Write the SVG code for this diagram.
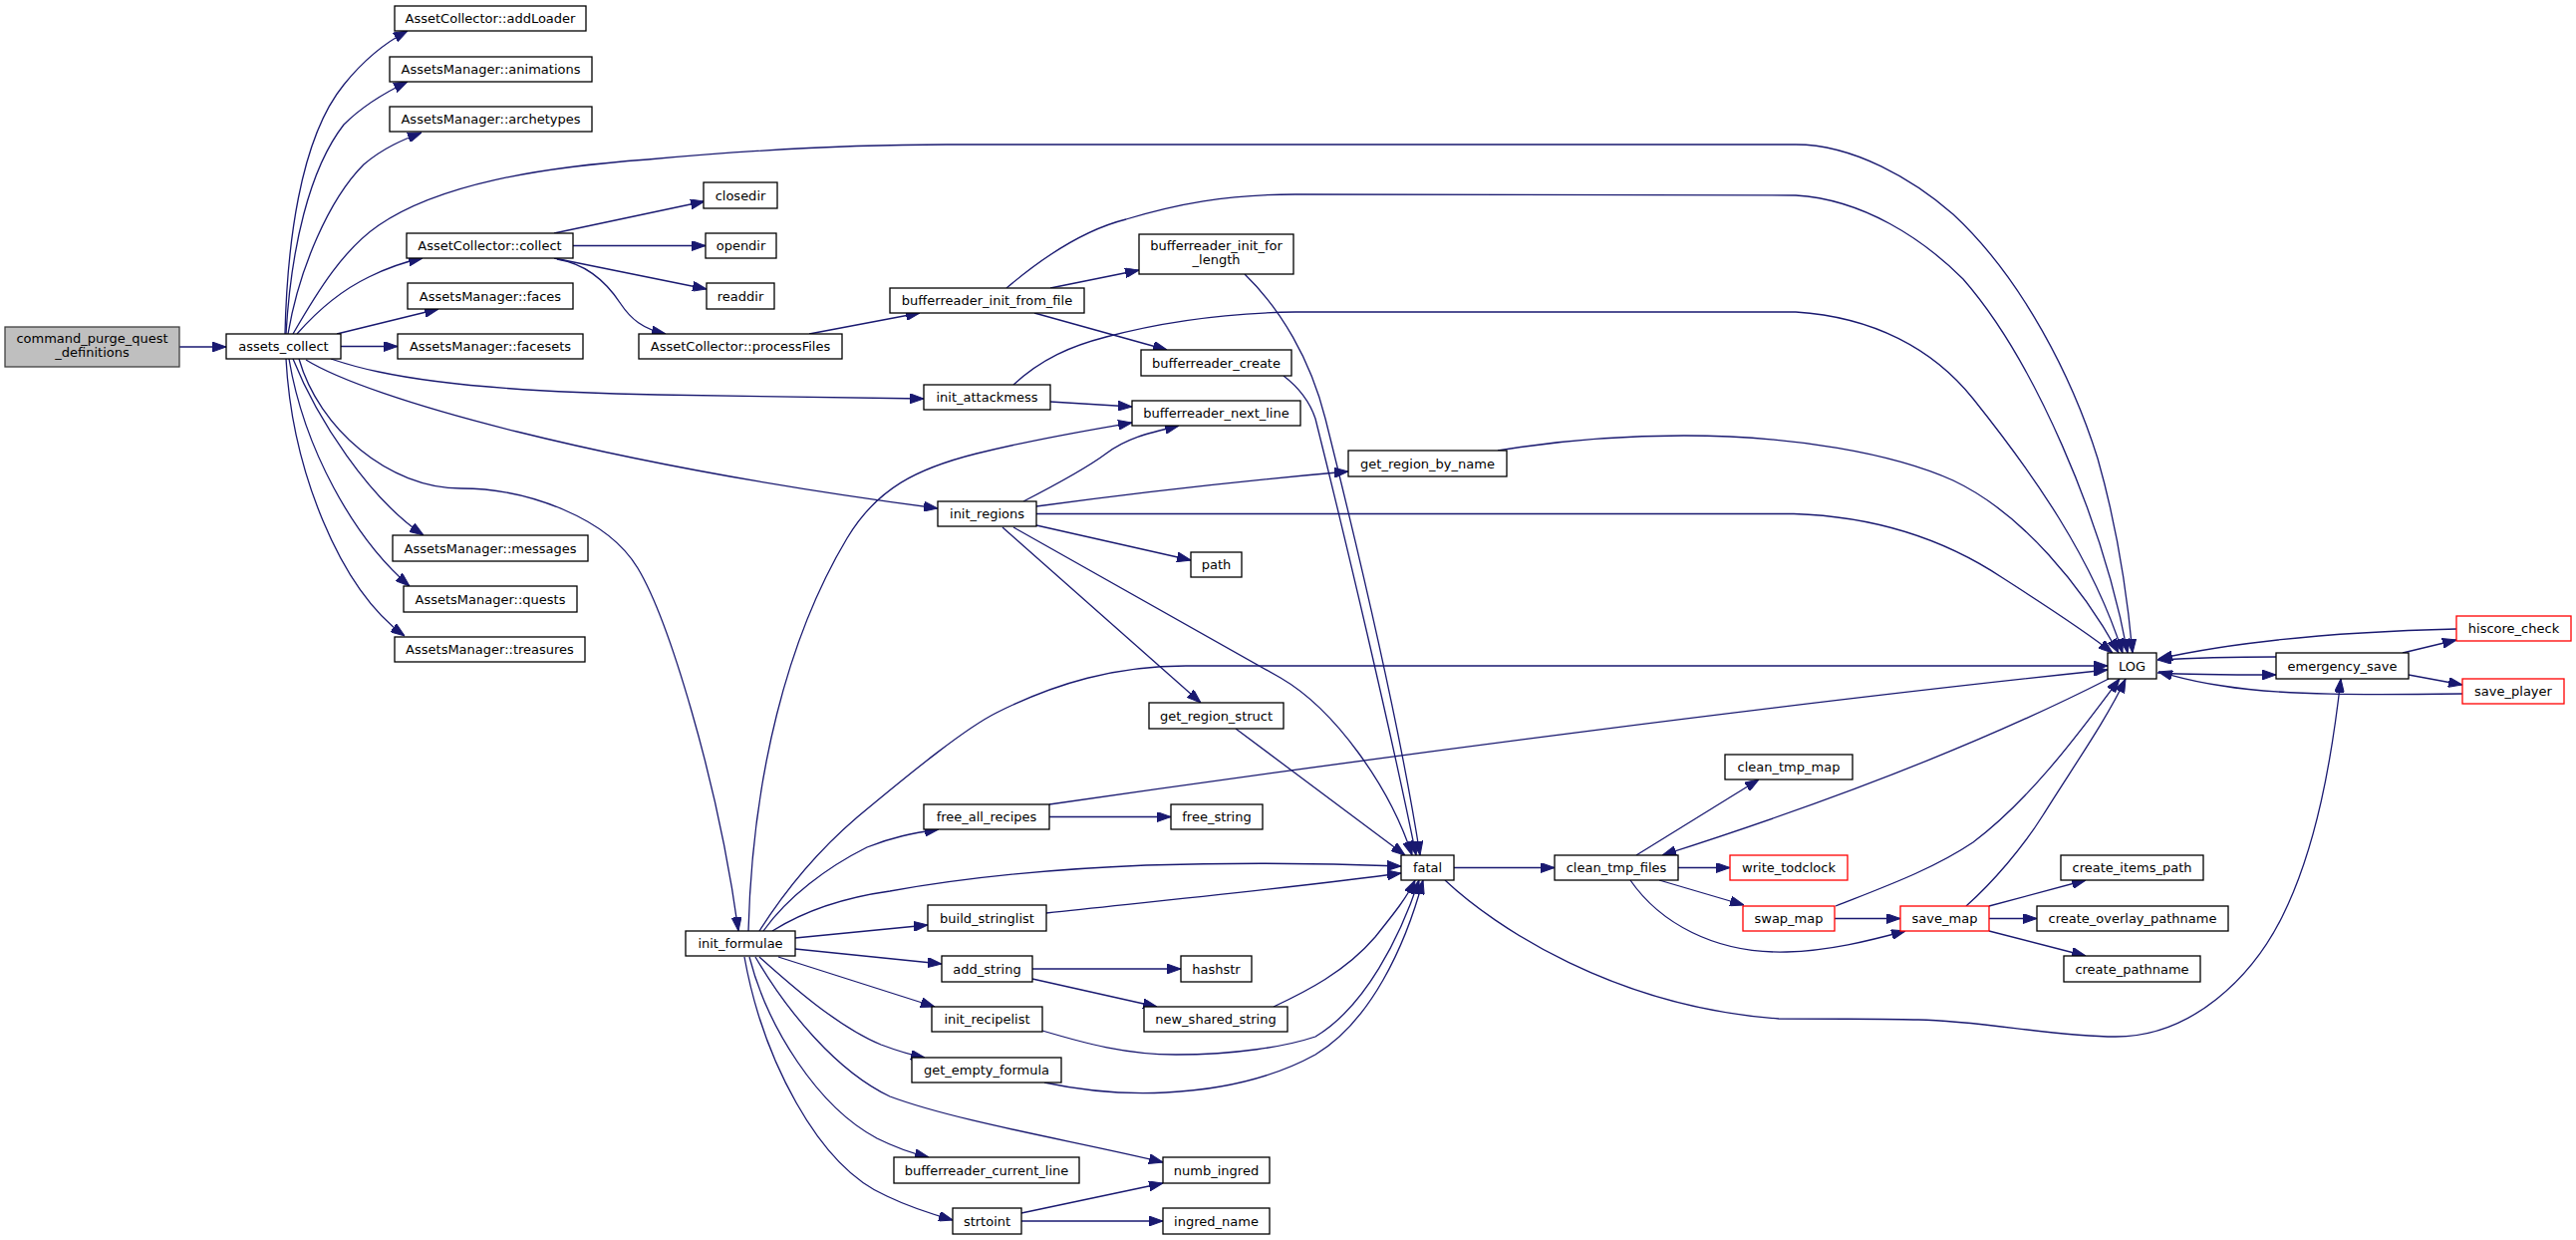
<svg xmlns="http://www.w3.org/2000/svg" width="2585" height="1244" viewBox="0 0 2585 1244">
<style>
.e{fill:none;stroke:#191970;stroke-width:1.3;marker-end:url(#ah)}
.n rect{fill:#fff;stroke:#000;stroke-width:1.3}
.n text{font-family:"DejaVu Sans","Liberation Sans",sans-serif;font-size:13px;fill:#000;text-anchor:middle}
.root rect{fill:#bfbfbf;stroke:#404040}
.tr rect{stroke:#ff0000}
</style>
<defs>
<marker id="ah" viewBox="0 0 14 10" refX="14" refY="5" markerWidth="14" markerHeight="10" markerUnits="userSpaceOnUse" orient="auto">
<path d="M0,0 L14,5 L0,10 z" fill="#191970" stroke="#191970" stroke-width="1"/>
</marker>
</defs>
<rect x="0" y="0" width="2585" height="1244" fill="#fff"/>
<g id="edges">
<path class="e" d="M180,348 L227,348"/>
<path class="e" d="M286,335 C288,250 300,140 345,85 C365,60 388,42 409,31"/>
<path class="e" d="M287,335 C292,250 310,170 345,125 C365,105 388,92 409,82"/>
<path class="e" d="M289,335 C300,270 330,200 365,165 C385,148 405,140 423,133"/>
<path class="e" d="M294,335 C320,290 345,250 380,226 C440,185 540,168 650,160 C760,150 850,145 950,145 L1802,145 C1860,145 1920,180 1960,215 C2030,280 2080,380 2105,460 C2125,530 2135,600 2140,655"/>
<path class="e" d="M298,335 C320,310 345,290 370,278 C390,268 405,263 424,259"/>
<path class="e" d="M338,335 L440,310"/>
<path class="e" d="M342,347.5 L399,347.5"/>
<path class="e" d="M332,360 C350,366 365,370 380,373 C450,388 550,394 660,396 C760,398 850,399 927,400"/>
<path class="e" d="M307,361 C370,400 600,465 941,510"/>
<path class="e" d="M294,360 C318,420 370,500 425,537"/>
<path class="e" d="M290,360 C305,450 355,540 411,588"/>
<path class="e" d="M287,360 C293,470 340,590 406,638"/>
<path class="e" d="M300,360 C320,430 390,490 463,490 C530,490 610,520 640,570 C670,620 720,780 741,934"/>
<path class="e" d="M556,234 L707,202"/>
<path class="e" d="M575,246.5 L708,246.5"/>
<path class="e" d="M556,259 L709,290"/>
<path class="e" d="M559,260 C590,265 610,285 623,305 C633,320 645,330 668,335"/>
<path class="e" d="M812,335 L923,314"/>
<path class="e" d="M1054,289 L1143,271"/>
<path class="e" d="M1038,314 L1171,351"/>
<path class="e" d="M1010,289 C1050,255 1090,230 1130,220 C1180,205 1230,195 1300,195 L1802,196 C1870,200 1930,240 1970,280 C2040,360 2110,520 2135,655"/>
<path class="e" d="M1054,403 L1136,408"/>
<path class="e" d="M1017,386 C1045,360 1075,347 1110,338 C1170,322 1230,314 1300,313 L1802,313 C1880,318 1940,350 1980,400 C2040,475 2100,560 2130,655"/>
<path class="e" d="M1027,503 C1060,486 1090,470 1110,455 C1130,440 1150,435 1183,427"/>
<path class="e" d="M1040,508 C1150,493 1250,482 1353,473"/>
<path class="e" d="M1040,515.5 L1800,515.5 C1880,518 1950,540 2010,580 C2060,612 2095,635 2120,655"/>
<path class="e" d="M1040,527 L1195,562"/>
<path class="e" d="M1006,529 L1205,705"/>
<path class="e" d="M1017,529 L1285,680 C1340,712 1395,790 1417,858"/>
<path class="e" d="M1240,731 L1410,858"/>
<path class="e" d="M1249,275 C1285,310 1315,360 1330,420 C1360,540 1405,730 1425,858"/>
<path class="e" d="M1288,377 C1305,390 1315,405 1320,420 C1350,540 1395,730 1421,858"/>
<path class="e" d="M1503,452 C1570,441 1630,437 1690,437 C1800,437 1900,455 1960,482 C2030,515 2090,590 2126,655"/>
<path class="e" d="M1053,819.5 L1175,819.5"/>
<path class="e" d="M1053,807 C1400,757 1800,705 2115,672"/>
<path class="e" d="M751,934 C755,780 790,640 850,540 C880,490 920,470 980,455 C1040,440 1090,432 1136,424"/>
<path class="e" d="M762,934 C790,890 825,850 860,820 C920,770 970,730 1000,715 C1060,685 1120,668 1190,668 L2115,668"/>
<path class="e" d="M766,934 C790,900 830,870 870,850 C895,840 915,836 942,832"/>
<path class="e" d="M775,934 C810,912 850,900 893,894 C960,882 1050,872 1150,868 C1250,865 1330,866 1406,869"/>
<path class="e" d="M798,941 L931,928"/>
<path class="e" d="M798,952 L945,967"/>
<path class="e" d="M781,960 L938,1010"/>
<path class="e" d="M762,960 C790,985 840,1030 884,1048 C900,1054 912,1058 928,1061"/>
<path class="e" d="M758,960 C790,1015 840,1075 893,1100 C960,1125 1080,1145 1167,1166"/>
<path class="e" d="M752,960 C770,1030 820,1110 880,1142 C900,1152 915,1157 932,1161"/>
<path class="e" d="M747,960 C765,1060 820,1170 890,1200 C915,1212 935,1218 956,1224"/>
<path class="e" d="M1050,916 C1200,900 1320,888 1406,876"/>
<path class="e" d="M1036,972 L1185,972"/>
<path class="e" d="M1036,982 L1161,1010"/>
<path class="e" d="M1278,1010 C1310,995 1350,975 1380,940 C1400,915 1412,900 1420,883"/>
<path class="e" d="M1046,1034 C1090,1047 1130,1058 1180,1058 C1240,1058 1290,1050 1320,1040 C1370,1010 1405,940 1424,883"/>
<path class="e" d="M1048,1086 C1090,1095 1130,1098 1170,1096 C1230,1093 1280,1080 1320,1058 C1375,1025 1410,950 1428,883"/>
<path class="e" d="M1025,1217 L1167,1187"/>
<path class="e" d="M1025,1225 L1167,1225"/>
<path class="e" d="M1459,870.5 L1560,870.5"/>
<path class="e" d="M1450,883 C1500,930 1620,1010 1785,1022 C1850,1022 1890,1022 1925,1023 C1990,1024 2060,1040 2123,1040 C2200,1040 2260,980 2290,920 C2325,850 2340,760 2349,681"/>
<path class="e" d="M1642,858 L1765,782"/>
<path class="e" d="M2116,681 C2000,740 1850,800 1668,858"/>
<path class="e" d="M1684,870.5 L1736,870.5"/>
<path class="e" d="M1665,883 L1750,908"/>
<path class="e" d="M1636,883 C1665,925 1720,957 1793,955 C1835,954 1875,944 1912,934"/>
<path class="e" d="M1841,921.5 L1907,921.5"/>
<path class="e" d="M1842,909 C1890,890 1940,872 1980,845 C2040,800 2090,730 2127,681"/>
<path class="e" d="M1973,909 C2000,885 2030,850 2050,818 C2080,770 2115,720 2133,681"/>
<path class="e" d="M1996,909 L2093,883"/>
<path class="e" d="M1996,921.5 L2044,921.5"/>
<path class="e" d="M1996,934 L2093,959"/>
<path class="e" d="M2284,659 C2240,659 2200,660 2165,662"/>
<path class="e" d="M2165,675 C2200,677 2240,677 2284,677"/>
<path class="e" d="M2465,631 C2380,633 2260,640 2166,661"/>
<path class="e" d="M2471,696 C2380,697 2290,698 2230,688 C2200,684 2185,679 2166,674"/>
<path class="e" d="M2411,655 L2465,642"/>
<path class="e" d="M2417,677 L2471,687"/>
</g>
<g id="node-command_purge_quest_definitions" class="n root"><rect x="5" y="328" width="175" height="40"/><text x="92.5" y="344">command_purge_quest</text><text x="92.5" y="358">_definitions</text></g>
<g id="node-assets_collect" class="n"><rect x="227" y="335" width="115" height="25"/><text x="284.5" y="352">assets_collect</text></g>
<g id="node-addLoader" class="n"><rect x="396" y="6" width="192" height="25"/><text x="492" y="23">AssetCollector::addLoader</text></g>
<g id="node-animations" class="n"><rect x="391" y="57" width="203" height="25"/><text x="492.5" y="74">AssetsManager::animations</text></g>
<g id="node-archetypes" class="n"><rect x="391" y="107" width="203" height="25"/><text x="492.5" y="124">AssetsManager::archetypes</text></g>
<g id="node-collect" class="n"><rect x="408" y="234" width="167" height="25"/><text x="491.5" y="251">AssetCollector::collect</text></g>
<g id="node-faces" class="n"><rect x="409" y="284" width="166" height="26"/><text x="492" y="301.5">AssetsManager::faces</text></g>
<g id="node-facesets" class="n"><rect x="399" y="335" width="186" height="25"/><text x="492" y="352">AssetsManager::facesets</text></g>
<g id="node-messages" class="n"><rect x="394" y="537" width="196" height="26"/><text x="492" y="554.5">AssetsManager::messages</text></g>
<g id="node-quests" class="n"><rect x="405" y="588" width="174" height="26"/><text x="492" y="605.5">AssetsManager::quests</text></g>
<g id="node-treasures" class="n"><rect x="396" y="639" width="191" height="25"/><text x="491.5" y="656">AssetsManager::treasures</text></g>
<g id="node-closedir" class="n"><rect x="706" y="183" width="74" height="26"/><text x="743" y="200.5">closedir</text></g>
<g id="node-opendir" class="n"><rect x="708" y="234" width="71" height="25"/><text x="743.5" y="251">opendir</text></g>
<g id="node-readdir" class="n"><rect x="709" y="284" width="68" height="26"/><text x="743" y="301.5">readdir</text></g>
<g id="node-processFiles" class="n"><rect x="641" y="335" width="204" height="25"/><text x="743" y="352">AssetCollector::processFiles</text></g>
<g id="node-bufferreader_init_from_file" class="n"><rect x="893" y="289" width="195" height="25"/><text x="990.5" y="306">bufferreader_init_from_file</text></g>
<g id="node-init_attackmess" class="n"><rect x="927" y="386" width="127" height="25"/><text x="990.5" y="403">init_attackmess</text></g>
<g id="node-init_regions" class="n"><rect x="941" y="503" width="99" height="25"/><text x="990.5" y="520">init_regions</text></g>
<g id="node-bufferreader_init_for_length" class="n"><rect x="1143" y="235" width="155" height="40"/><text x="1220.5" y="250.5">bufferreader_init_for</text><text x="1220.5" y="264.5">_length</text></g>
<g id="node-bufferreader_create" class="n"><rect x="1145" y="351" width="151" height="26"/><text x="1220.5" y="368.5">bufferreader_create</text></g>
<g id="node-bufferreader_next_line" class="n"><rect x="1136" y="402" width="169" height="25"/><text x="1220.5" y="419">bufferreader_next_line</text></g>
<g id="node-path" class="n"><rect x="1195" y="554" width="51" height="25"/><text x="1220.5" y="571">path</text></g>
<g id="node-get_region_struct" class="n"><rect x="1153" y="705" width="135" height="26"/><text x="1220.5" y="722.5">get_region_struct</text></g>
<g id="node-get_region_by_name" class="n"><rect x="1353" y="452" width="159" height="26"/><text x="1432.5" y="469.5">get_region_by_name</text></g>
<g id="node-free_all_recipes" class="n"><rect x="927" y="807" width="126" height="25"/><text x="990" y="824">free_all_recipes</text></g>
<g id="node-free_string" class="n"><rect x="1175" y="807" width="92" height="25"/><text x="1221" y="824">free_string</text></g>
<g id="node-init_formulae" class="n"><rect x="688" y="934" width="110" height="25"/><text x="743" y="951">init_formulae</text></g>
<g id="node-build_stringlist" class="n"><rect x="931" y="908" width="119" height="26"/><text x="990.5" y="925.5">build_stringlist</text></g>
<g id="node-add_string" class="n"><rect x="945" y="959" width="91" height="26"/><text x="990.5" y="976.5">add_string</text></g>
<g id="node-hashstr" class="n"><rect x="1185" y="959" width="71" height="26"/><text x="1220.5" y="976.5">hashstr</text></g>
<g id="node-init_recipelist" class="n"><rect x="935" y="1010" width="111" height="25"/><text x="990.5" y="1027">init_recipelist</text></g>
<g id="node-new_shared_string" class="n"><rect x="1148" y="1010" width="144" height="25"/><text x="1220" y="1027">new_shared_string</text></g>
<g id="node-get_empty_formula" class="n"><rect x="915" y="1061" width="150" height="25"/><text x="990" y="1078">get_empty_formula</text></g>
<g id="node-bufferreader_current_line" class="n"><rect x="897" y="1161" width="186" height="26"/><text x="990" y="1178.5">bufferreader_current_line</text></g>
<g id="node-numb_ingred" class="n"><rect x="1167" y="1161" width="107" height="26"/><text x="1220.5" y="1178.5">numb_ingred</text></g>
<g id="node-strtoint" class="n"><rect x="956" y="1212" width="69" height="26"/><text x="990.5" y="1229.5">strtoint</text></g>
<g id="node-ingred_name" class="n"><rect x="1167" y="1212" width="107" height="26"/><text x="1220.5" y="1229.5">ingred_name</text></g>
<g id="node-fatal" class="n"><rect x="1406" y="858" width="53" height="25"/><text x="1432.5" y="875">fatal</text></g>
<g id="node-clean_tmp_files" class="n"><rect x="1560" y="858" width="124" height="25"/><text x="1622" y="875">clean_tmp_files</text></g>
<g id="node-write_todclock" class="n tr"><rect x="1736" y="858" width="118" height="25"/><text x="1795" y="875">write_todclock</text></g>
<g id="node-swap_map" class="n tr"><rect x="1749" y="909" width="92" height="25"/><text x="1795" y="926">swap_map</text></g>
<g id="node-save_map" class="n tr"><rect x="1907" y="909" width="89" height="25"/><text x="1951.5" y="926">save_map</text></g>
<g id="node-clean_tmp_map" class="n"><rect x="1731" y="757" width="128" height="25"/><text x="1795" y="774">clean_tmp_map</text></g>
<g id="node-LOG" class="n"><rect x="2115" y="655" width="49" height="26"/><text x="2139.5" y="672.5">LOG</text></g>
<g id="node-emergency_save" class="n"><rect x="2284" y="655" width="133" height="26"/><text x="2350.5" y="672.5">emergency_save</text></g>
<g id="node-hiscore_check" class="n tr"><rect x="2465" y="618" width="115" height="25"/><text x="2522.5" y="635">hiscore_check</text></g>
<g id="node-save_player" class="n tr"><rect x="2471" y="681" width="102" height="25"/><text x="2522" y="698">save_player</text></g>
<g id="node-create_items_path" class="n"><rect x="2068" y="858" width="143" height="25"/><text x="2139.5" y="875">create_items_path</text></g>
<g id="node-create_overlay_pathname" class="n"><rect x="2044" y="909" width="192" height="25"/><text x="2140" y="926">create_overlay_pathname</text></g>
<g id="node-create_pathname" class="n"><rect x="2071" y="959" width="137" height="26"/><text x="2139.5" y="976.5">create_pathname</text></g>
</svg>
